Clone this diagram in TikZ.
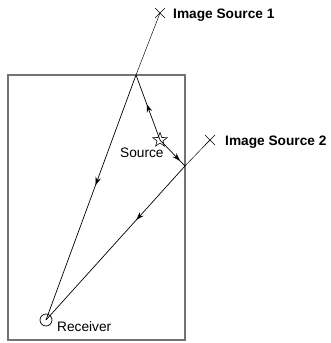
\documentclass[tikz,border=0pt]{standalone}
\usepackage{fontspec}
\setmainfont{Liberation Sans}
\usetikzlibrary{shapes.geometric,arrows.meta,decorations.markings,calc}
\begin{document}
\begin{tikzpicture}[x=1pt,y=-1pt,
  wall/.style={draw=black!55,line width=1.1pt},
  ray/.style={draw=black,line width=0.7pt},
  imgray/.style={draw=black,line width=0.45pt},
  midarrow/.style={postaction={decorate},decoration={markings,
    mark=at position #1 with {\arrow{Stealth[length=8pt,width=5.5pt]}}}},
  lbl/.style={anchor=base west,inner sep=0pt,font=\fontsize{13.7}{15}\selectfont},
  blbl/.style={lbl,font=\fontsize{13.7}{15}\selectfont\bfseries},
  cross/.style={draw=black,line width=0.6pt}]
\useasboundingbox (0,0) rectangle (330,343);
\draw[wall] (8,75) rectangle (185,340);
\coordinate (is1) at (160,13);
\coordinate (r1) at (136,75);
\coordinate (is2) at (210,140);
\coordinate (r2) at (185,166);
\coordinate (src) at (160,140);
\coordinate (rcv) at (46,320);
% image source lines
\draw[imgray] (is1) -- (r1);
\draw[imgray] (is2) -- (r2);
% rays
\draw[ray,midarrow=0.45] (r1) -- (rcv);
\draw[ray,midarrow=0.35] (r2) -- (rcv);
\draw[ray,midarrow=0.55] (src) -- (r1);
\draw[ray,midarrow=0.8] (src) -- (r2);
% markers
\draw[cross] ($(is1)+(-5,-5)$) -- ($(is1)+(5,5)$) ($(is1)+(-5,5)$) -- ($(is1)+(5,-5)$);
\draw[cross] ($(is2)+(-5,-5)$) -- ($(is2)+(5,5)$) ($(is2)+(-5,5)$) -- ($(is2)+(5,-5)$);
\node[star,star points=5,star point ratio=2.4,draw=black,line width=0.6pt,fill=none,minimum size=15pt,inner sep=0pt] (star) at (src) {};
\node[circle,draw=black,line width=0.7pt,minimum size=12pt,inner sep=0pt] (rc) at (rcv) {};
% labels
\node[blbl] (l1) at (173,18) {Image Source 1};
\node[blbl] (l2) at (225,145) {Image Source 2};
\node[lbl] (ls) at (120,157) {Source};
\node[lbl] (lr) at (57,331) {Receiver};
\end{tikzpicture}
\end{document}
